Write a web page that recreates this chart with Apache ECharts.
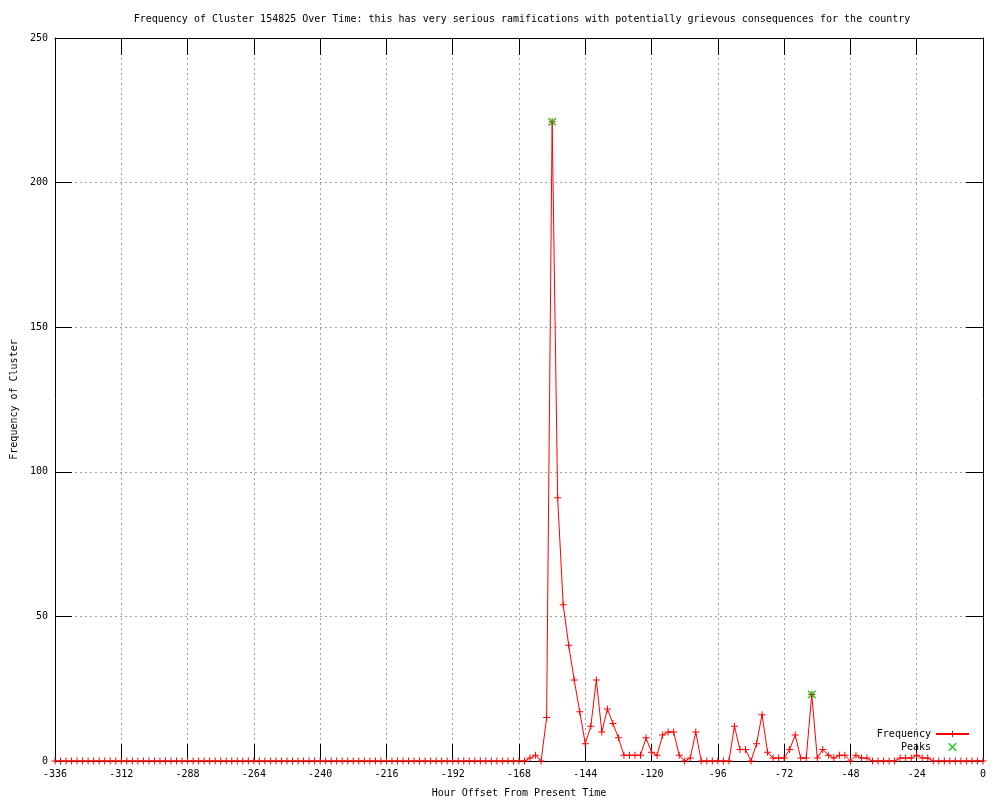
<!DOCTYPE html>
<html>
<head>
<meta charset="utf-8">
<script src="https://cdn.jsdelivr.net/npm/echarts@6/dist/echarts.min.js"></script>
<style>html,body{margin:0;padding:0;background:#fff}#c{width:1000px;height:800px}</style>
</head>
<body>
<div id="c"></div>
<script>
// Hour offsets (every 2 hours from -336 to 0)
const hours = [];
for (let h = -336; h <= 0; h += 2) hours.push(h);

// Nonzero portion of the frequency series, from -168 to 0 (step 2)
const tailStart = -168;
const tailValues = [
  0, 0, 1, 2, 0, 15, 221, 91, 54, 40,      // -168 .. -150
  28, 17, 6, 12, 28, 10, 18, 13, 8, 2,     // -148 .. -130
  2, 2, 2, 8, 3, 2, 9, 10, 10, 2,          // -128 .. -110
  0, 1, 10, 0, 0, 0, 0, 0, 0, 12,          // -108 .. -90
  4, 4, 0, 6, 16, 3, 1, 1, 1, 4,           // -88 .. -70
  9, 1, 1, 23, 1, 4, 2, 1, 2, 2,           // -68 .. -50
  0, 2, 1, 1, 0, 0, 0, 0, 0, 1,            // -48 .. -30
  1, 1, 2, 1, 1, 0, 0, 0, 0, 0,            // -28 .. -10
  0, 0, 0, 0, 0                            // -8 .. 0
];

const peakHours = [-156, -62];
const peakValues = [221, 23];

const xTicks = [-336, -312, -288, -264, -240, -216, -192, -168, -144, -120, -96, -72, -48, -24, 0];
const yTicks = [0, 50, 100, 150, 200, 250];

const freqData = hours.map(h => {
  const i = (h - tailStart) / 2;
  return [h, h < tailStart ? 0 : tailValues[i]];
});
const peakData = peakHours.map((h, i) => [h, peakValues[i]]);

const FONT = 'DejaVu Sans Mono';
const FS = 10;
const plus = 'path://M3,0H4V3H7V4H4V7H3V4H0V3H3Z';
const xmark = 'path://M0,0L1,0L7,6L7,7L6,7L0,1ZM6,0L7,0L7,1L1,7L0,7L0,6Z';

const chart = echarts.init(document.getElementById('c'), null, {renderer: 'canvas'});
const axisCommon = {
  axisLine: {show: true, onZero: false, lineStyle: {color: '#000', width: 1}},
  axisTick: {show: true, inside: true, length: 17, lineStyle: {color: '#000'}},
  splitLine: {show: false}
};
const gridLine = {show: true, lineStyle: {color: '#a0a0a0', type: [2, 3], width: 1}};
chart.setOption({
  animation: false,
  backgroundColor: '#fff',
  title: {
    text: 'Frequency of Cluster 154825 Over Time: this has very serious ramifications with potentially grievous consequences for the country',
    left: 517, top: 9, textAlign: 'center',
    textStyle: {fontFamily: FONT, fontSize: FS, fontWeight: 'normal', color: '#000'}
  },
  grid: {left: 55, right: 17, top: 38, bottom: 39, containLabel: false, outerBoundsMode: 'none'},
  legend: {
    orient: 'vertical', right: 25, top: 724, align: 'right',
    itemWidth: 33, itemHeight: 8, itemGap: 3,
    textStyle: {fontFamily: FONT, fontSize: FS, color: '#000'},
    data: ['Frequency', 'Peaks']
  },
  xAxis: [{
    type: 'value', min: -336, max: 0, interval: 24, position: 'bottom',
    name: 'Hour Offset From Present Time', nameLocation: 'middle', nameGap: 27,
    nameTextStyle: {fontFamily: FONT, fontSize: FS, color: '#000'},
    axisLabel: {fontFamily: FONT, fontSize: FS, color: '#000', margin: 8},
    ...axisCommon,
    splitLine: gridLine
  }, {
    type: 'value', min: -336, max: 0, interval: 24, position: 'top',
    axisLabel: {show: false}, ...axisCommon
  }],
  yAxis: [{
    type: 'value', min: 0, max: 250, interval: 50, position: 'left',
    name: 'Frequency of Cluster', nameLocation: 'middle', nameGap: 36,
    nameTextStyle: {fontFamily: FONT, fontSize: FS, color: '#000'},
    axisLabel: {fontFamily: FONT, fontSize: FS, color: '#000', margin: 7},
    ...axisCommon,
    splitLine: gridLine
  }, {
    type: 'value', min: 0, max: 250, interval: 50, position: 'right',
    axisLabel: {show: false}, ...axisCommon
  }],
  series: [{
    name: 'Frequency', type: 'line', data: freqData,
    xAxisIndex: 0, yAxisIndex: 0,
    symbol: plus, symbolSize: 7, showAllSymbol: true,
    lineStyle: {color: '#ff0000', width: 1},
    itemStyle: {color: '#ff0000'},
    z: 3
  }, {
    name: 'Peaks', type: 'scatter', data: peakData,
    xAxisIndex: 0, yAxisIndex: 0,
    symbol: xmark, symbolSize: 8,
    itemStyle: {color: '#00c000'},
    z: 4
  }]
});
</script>
</body>
</html>
